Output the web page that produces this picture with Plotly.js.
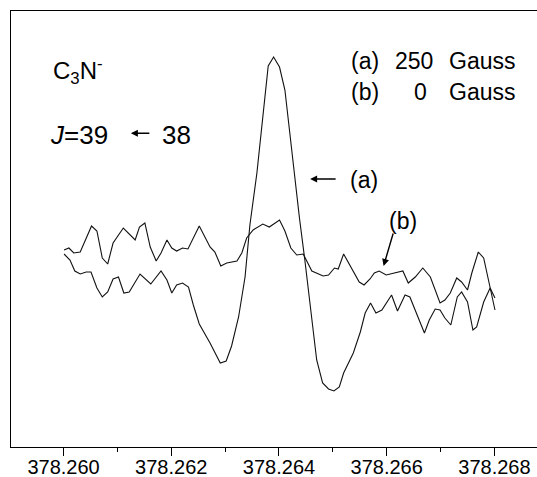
<!DOCTYPE html>
<html>
<head>
<meta charset="utf-8">
<script src="https://cdn.plot.ly/plotly-3.0.1.min.js"></script>
<style>html,body{margin:0;padding:0;background:#fff;}#chart{width:537px;height:477px;}</style>
</head>
<body>
<div id="chart"></div>
<script>
// Frequency (GHz) and signal (arbitrary units)
const freqA = [378.26001,378.26012,378.26021,378.26031,378.26042,378.26051,378.26062,378.26072,378.26082,378.26092,
  378.26102,378.26112,378.26122,378.26142,378.26162,378.26181,378.26192,378.26201,378.26210,378.26221,
  378.26232,378.26241,378.26252,378.26272,378.26291,378.26302,378.26312,378.26325,378.26337,378.26346,
  378.26359,378.26371,378.26377,378.26380,378.26390,378.26401,378.26411,378.26421,378.26430,378.26438,
  378.26448,378.26461,378.26470,378.26481,378.26492,378.26502,378.26512,378.26520,378.26538,378.26551,
  378.26560,378.26570,378.26580,378.26591,378.26609,378.26620,378.26634,378.26643,378.26653,378.26670,
  378.26679,378.26690,378.26699,378.26708,378.26719,378.26731,378.26739,378.26750,378.26760,378.26767,
  378.26780,378.26792,378.26801];
const sigA = [19.3,18.7,17.6,17.3,17.5,17.5,15.9,15.0,15.5,16.8,
  17.0,15.4,15.5,17.3,16.3,17.6,16.7,15.4,16.2,16.4,
  16.0,14.2,12.3,10.4,8.4,8.6,10.1,13.0,17.0,22.2,
  27.4,33.4,36.9,38.1,39.0,38.0,35.7,31.0,26.4,22.9,
  18.7,12.7,8.7,6.4,5.8,5.6,6.0,7.4,9.4,11.5,
  13.4,14.4,13.4,13.7,15.2,13.6,15.2,15.0,13.7,11.4,
  12.7,13.8,13.7,12.9,12.2,15.0,15.5,14.5,11.7,12.0,
  14.5,15.9,14.9];
const freqB = [378.26001,378.26010,378.26019,378.26031,378.26052,378.26062,378.26072,378.26082,378.26092,378.26111,
  378.26133,378.26141,378.26151,378.26161,378.26172,378.26181,378.26192,378.26201,378.26210,378.26221,
  378.26231,378.26252,378.26272,378.26281,378.26292,378.26303,378.26322,378.26331,378.26340,378.26352,
  378.26370,378.26382,378.26401,378.26411,378.26422,378.26433,378.26445,378.26461,378.26482,378.26492,
  378.26503,378.26510,378.26520,378.26535,378.26549,378.26558,378.26569,378.26577,378.26586,378.26599,
  378.26612,378.26630,378.26640,378.26653,378.26667,378.26681,378.26699,378.26708,378.26718,378.26730,
  378.26739,378.26750,378.26758,378.26770,378.26780,378.26801];
const sigB = [19.7,19.9,19.4,19.5,22.1,21.6,18.9,18.3,20.4,21.9,
  20.7,22.0,22.4,20.0,18.6,19.4,20.7,19.9,19.6,19.9,
  19.8,22.1,20.0,19.5,18.1,18.4,18.6,19.4,20.9,21.7,
  22.3,22.0,22.7,21.6,19.9,19.2,19.3,17.6,17.1,17.2,
  17.9,17.8,19.3,17.9,16.5,16.2,16.8,17.4,17.6,17.2,
  17.4,17.6,16.4,17.0,17.9,17.0,14.4,14.7,15.4,16.9,
  16.5,15.7,17.4,19.5,18.9,13.7];
const tickVals = [378.260,378.262,378.264,378.266,378.268];
const tickText = ['378.260','378.262','378.264','378.266','378.268'];

const lineStyle = {color:'#111', width:1.1};
const traces = [
  {x:freqA, y:sigA, type:'scatter', mode:'lines', line:lineStyle, name:'(a) 250 Gauss', hoverinfo:'skip'},
  {x:freqB, y:sigB, type:'scatter', mode:'lines', line:lineStyle, name:'(b) 0 Gauss', hoverinfo:'skip'}
];
const F = 'Liberation Sans, Arial, sans-serif';
const txt = (text, x, y, xa, size) => ({xref:'paper', yref:'paper', x:x, y:y, xanchor:xa, yanchor:'middle',
  text:text, showarrow:false, font:{family:F, size:size, color:'#000'}});
const arr = (x, y, ax, ay) => ({xref:'x', yref:'y', x:x, y:y, ax:ax, ay:ay, text:'', showarrow:true,
  arrowhead:2, arrowsize:1, arrowwidth:1.4, arrowcolor:'#000'});
const layout = {
  width:537, height:477,
  margin:{l:11, r:0, t:11, b:30},
  paper_bgcolor:'#fff', plot_bgcolor:'#fff',
  showlegend:false,
  xaxis:{range:[378.259025, 378.26879], tickvals:tickVals, ticktext:tickText,
    ticks:'outside', ticklen:8, tickwidth:1, tickcolor:'#000', ticklabelstandoff:-6,
    minor:{dtick:0.001, tick0:378.259, ticks:'outside', ticklen:4, tickwidth:1, tickcolor:'#000'},
    showline:true, linecolor:'#000', linewidth:1, mirror:true, showgrid:false, zeroline:false,
    tickfont:{family:F, size:20, color:'#000'}},
  yaxis:{range:[0, 43.6], showticklabels:false, ticks:'', showline:true, linecolor:'#000', linewidth:1,
    showgrid:false, zeroline:false},
  annotations:[
    txt('C<sub>3</sub>N<sup>-</sup>', 0.076, 0.862, 'left', 24),
    txt('<i>J</i>=39', 0.0705, 0.7156, 'left', 26),
    txt('38', 0.2833, 0.7156, 'left', 26),
    arr(378.26125, 31.37, 20, 0),
    txt('(a)', 0.6426, 0.8853, 'left', 23),
    txt('250', 0.8061, 0.8853, 'right', 23),
    txt('Gauss', 0.8289, 0.8853, 'left', 23),
    txt('(b)', 0.6426, 0.8142, 'left', 23),
    txt('0', 0.7947, 0.8142, 'right', 23),
    txt('Gauss', 0.8289, 0.8142, 'left', 23),
    arr(378.264578, 26.8, 27, 0),
    {xref:'x', yref:'y', x:378.265571, y:26.7, text:'(a)', showarrow:false, font:{family:F, size:23, color:'#000'}},
    arr(378.265942, 18.1, 10, -34),
    {xref:'x', yref:'y', x:378.266305, y:22.6, text:'(b)', showarrow:false, font:{family:F, size:23, color:'#000'}}
  ]
};
Plotly.newPlot('chart', traces, layout, {staticPlot:true, displayModeBar:false});
</script>
</body>
</html>
